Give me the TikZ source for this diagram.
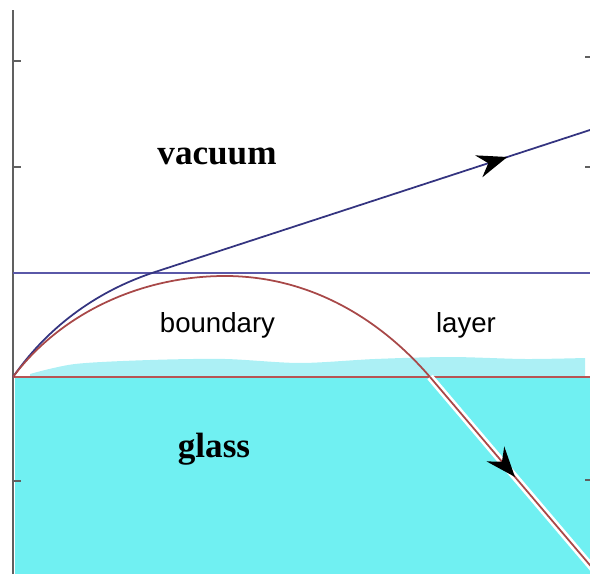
\documentclass[tikz,border=0pt]{standalone}
\usepackage{fontspec}
\setmainfont{Liberation Serif}
\newfontfamily\labelsans{Liberation Sans}
\usetikzlibrary{arrows.meta,decorations.markings}
\definecolor{glasscyan}{RGB}{112,240,242}
\definecolor{bandcyan}{RGB}{172,240,245}
\definecolor{rayblue}{RGB}{52,52,128}
\definecolor{lineblue}{RGB}{90,88,168}
\definecolor{rayred}{RGB}{168,72,72}
\definecolor{linered}{RGB}{184,84,84}
\definecolor{axisgray}{RGB}{96,96,96}

\begin{document}
\begin{tikzpicture}
\tikzset{ax/.style={axisgray,line width=1.6pt},
  medium/.style={font=\bfseries\fontsize{20}{24}\selectfont,anchor=base},
  zone/.style={font=\labelsans\fontsize{15.7}{18}\selectfont,anchor=base},
  arrowed/.style={postaction={decorate},decoration={markings,
    mark=at position #1 with {\arrow[black]{Stealth[length=6mm,width=4.6mm,inset=2mm]}}}}}
\useasboundingbox (0,0) rectangle (11.8,11.48);
\clip (0,0) rectangle (11.8,11.48);

% glass and the thin surface band
\fill[glasscyan] (0.3,0) rectangle (11.8,3.94);
\fill[bandcyan] (0.6,3.94) -- plot[smooth] coordinates {(0.6,4.0) (1.5,4.2) (3,4.28) (4.5,4.3) (6,4.22) (7.5,4.3) (9,4.34) (10.5,4.3) (11.7,4.32)} -- (11.7,3.94) -- cycle;

\coordinate (o) at (0.26,3.94);
\coordinate (cross) at (3.1,6.04);
\coordinate (far) at (11.8,8.88);
\coordinate (peak) at (4.5,5.96);
\coordinate (exit) at (8.6,3.94);
\coordinate (deep) at (11.95,0);

% axis with ticks
\draw[ax] (0.26,0) -- (0.26,11.28);
\foreach \y in {10.26,8.14,1.86} \draw[ax] (0.26,\y) -- ++(0.16,0);
\foreach \y in {10.34,8.14,1.88} \draw[ax,line width=1.2pt] (11.8,\y) -- ++(-0.1,0);

% layer limits
\draw[lineblue,line width=1.1pt] (0.26,6.02) -- (11.8,6.02);
\draw[linered,line width=1.1pt] (0.26,3.94) -- (11.8,3.94);

% rays
\draw[rayblue,line width=1pt] (o) .. controls (1.0,5.0) and (2.0,5.68) .. (cross);
\draw[rayblue,line width=1pt,arrowed=0.81] (cross) -- (far);
\draw[rayred,line width=1pt] (o) .. controls (1.2,5.2) and (2.8,5.96) .. (peak)
  .. controls (6.2,5.96) and (7.6,5.1) .. (exit);
\draw[white,line width=4pt] (exit) -- (deep);
\draw[rayred,line width=1pt,arrowed=0.507] (exit) -- (deep);

\node[medium] (vac) at (4.34,8.18) {vacuum};
\node[medium] (gls) at (4.28,2.34) {glass};
\node[zone] (bnd) at (4.35,4.84) {boundary};
\node[zone] (lay) at (9.32,4.84) {layer};
\end{tikzpicture}
\end{document}
